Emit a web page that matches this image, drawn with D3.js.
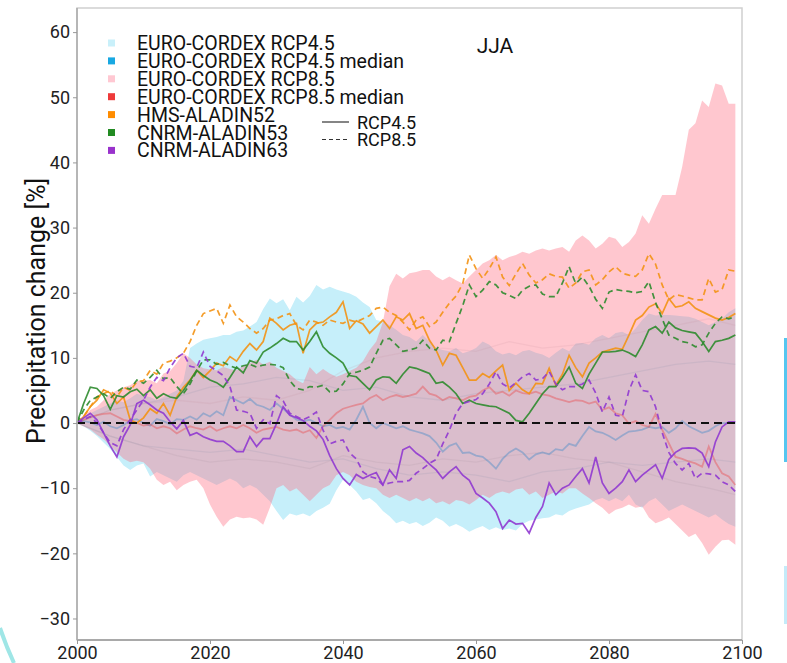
<!DOCTYPE html>
<html>
<head>
<meta charset="utf-8">
<script src="https://cdn.jsdelivr.net/npm/d3@7"></script>
<style>
  html, body { margin: 0; padding: 0; background: #fff; }
  svg { display: block; font-family: Roboto, "Noto Sans", sans-serif; }
</style>
</head>
<body>
<svg id="chart" width="787" height="663"></svg>
<script>
// JJA precipitation change relative to 2000, annual values 2000-2099
const years = d3.range(2000, 2100);

// EURO-CORDEX ensemble envelopes
const rcp45Upper = [
  0,0.8,1.5,2.0,2.5,3.0,3.5,3.2,3.8,4.5,
  4.2,4.0,3.5,4.0,4.5,5.0,6.5,11.5,12.2,12.8,
  13.0,13.2,13.5,13.5,14.0,14.2,14.8,15.5,17.5,19.1,
  18.4,19.0,17.3,19.4,18.5,19.5,21.2,20.5,20.9,20.5,
  20.2,19.9,19.4,18.5,17.8,15.8,15.6,15.0,14.3,13.5,
  13.2,12.5,13.5,12.5,11.5,11.2,11.0,11.5,10.7,11.0,
  11.5,12.5,12.0,11.0,10.5,10.8,10.4,11.0,11.2,10.8,
  10.5,10.0,10.8,11.5,11.0,12.2,12.3,12.0,13.0,13.5,
  13.0,13.8,14.0,13.5,14.5,15.8,16.8,16.5,16.6,16.6,
  16.5,16.4,16.3,16.0,15.5,15.0,15.5,16.0,17.0,17.6];
const rcp45Lower = [
  0,-0.5,-1.2,-2.0,-3.0,-4.0,-5.2,-6.5,-7.2,-6.5,
  -6.2,-8.2,-7.5,-8.0,-8.5,-9.0,-8.0,-7.5,-8.0,-8.5,
  -9.0,-9.5,-9.0,-8.5,-9.0,-10.0,-9.5,-10.0,-11.0,-12.0,
  -13.5,-14.9,-13.9,-14.2,-13.9,-14.3,-13.5,-13.0,-12.4,-10.3,
  -8.7,-9.5,-10.5,-11.8,-11.5,-12.3,-13.5,-14.3,-15.4,-15.0,
  -15.5,-15.2,-15.8,-15.3,-14.5,-15.0,-15.9,-15.5,-16.0,-16.7,
  -16.2,-15.8,-16.4,-16.0,-16.4,-16.2,-16.5,-15.5,-15.0,-14.8,
  -14.6,-14.5,-14.0,-14.2,-13.5,-13.1,-12.8,-12.5,-11.8,-11.5,
  -12.0,-11.5,-12.0,-11.0,-12.5,-13.0,-12.0,-11.5,-12.5,-13.5,
  -13.0,-12.5,-13.0,-13.5,-14.0,-14.5,-14.0,-14.8,-15.5,-15.9];
const rcp85Upper = [
  0,1.0,2.0,2.5,3.5,4.5,5.0,5.5,5.8,6.5,
  6.5,6.6,6.1,7.6,8.0,9.2,10.7,10.0,9.0,8.4,
  8.2,8.1,8.6,8.3,8.1,8.8,9.2,9.7,9.0,9.4,
  8.5,8.0,7.5,6.6,6.1,8.6,7.5,8.3,7.6,7.1,
  7.5,8.0,8.5,9.5,11.2,12.5,15.5,21.0,22.9,22.2,
  23.0,23.2,23.5,23.5,22.5,21.9,22.5,21.9,21.4,22.5,
  23.5,24.5,25.0,25.8,25.0,25.5,25.8,26.3,26.0,26.5,
  26.8,26.5,26.8,27.0,26.3,28.0,28.8,28.0,26.8,27.5,
  28.6,28.3,27.0,27.8,29.1,31.9,30.6,32.9,35.0,35.0,
  35.0,39.3,45.0,46.0,49.5,48.5,52.1,51.8,49.0,49.0];
const rcp85Lower = [
  0,-0.5,-1.0,-1.8,-2.5,-3.5,-4.5,-5.5,-6.0,-5.8,
  -6.0,-7.0,-8.7,-9.5,-9.0,-10.3,-9.5,-9.0,-8.7,-10.0,
  -12.5,-14.4,-15.9,-14.8,-14.4,-14.6,-14.5,-14.8,-15.6,-13.0,
  -10.0,-9.5,-10.5,-10.0,-11.0,-12.0,-11.0,-10.0,-9.5,-8.0,
  -7.5,-8.0,-9.0,-9.5,-9.8,-10.0,-11.0,-11.5,-11.0,-11.5,
  -12.0,-11.5,-12.0,-11.5,-12.3,-12.0,-12.5,-11.8,-12.0,-12.5,
  -11.8,-11.0,-11.5,-10.8,-10.5,-10.8,-10.2,-10.0,-11.0,-10.5,
  -11.5,-11.0,-10.5,-10.8,-10.0,-10.0,-10.8,-11.5,-12.3,-13.0,
  -14.0,-13.3,-13.0,-12.5,-13.0,-12.8,-14.5,-15.4,-15.0,-14.5,
  -15.5,-16.5,-17.5,-17.0,-18.4,-20.2,-19.0,-18.0,-17.9,-18.7];

// EURO-CORDEX ensemble medians
const rcp45Median = [
  0,0.3,0.1,-0.3,0.2,-0.5,-0.8,-0.3,0.4,0.6,
  0.0,-0.4,0.6,0.3,-0.2,0.6,0.5,1.0,0.5,1.5,
  1.0,1.8,1.2,4.0,3.5,3.0,3.7,2.8,2.5,2.0,
  3.0,2.2,1.3,0.5,0.3,0.5,0.0,-0.5,-0.3,-0.8,
  -0.6,-1.0,0.5,2.5,0.0,-0.8,0.0,-0.4,-0.8,-0.5,
  -1.0,-1.3,-1.6,-2.0,-3.0,-4.4,-3.5,-3.1,-4.6,-4.5,
  -5.0,-5.2,-6.0,-7.0,-5.5,-4.5,-3.9,-4.5,-5.6,-4.8,
  -4.5,-4.8,-4.0,-4.2,-3.2,-3.5,-2.0,-0.6,-1.3,-1.5,
  -2.0,-2.6,-1.9,-1.3,-1.2,-1.0,-0.6,-0.8,-0.6,-1.5,
  -0.8,0.3,-0.5,-1.0,-1.5,-1.2,-0.5,0.0,0.0,0.0];
const rcp85Median = [
  0,0.5,0.9,1.2,1.4,1.5,1.0,0.5,0.3,0.0,
  -0.4,-0.2,-0.8,-0.5,-0.8,-1.6,-1.0,-0.5,-0.8,-1.0,
  -0.5,-1.2,-0.8,-0.5,-0.8,-0.3,-0.8,-1.5,-1.0,-0.8,
  -0.6,-1.0,-1.2,-1.0,-1.5,-1.1,-2.3,-0.5,0.5,1.5,
  2.2,2.5,2.8,3.0,3.8,4.3,3.5,4.0,4.3,4.0,
  4.2,4.5,5.6,4.5,4.2,3.5,4.0,3.8,3.5,4.0,
  4.2,5.0,5.5,4.5,4.8,4.2,5.0,4.6,4.5,4.8,
  4.4,4.2,3.8,3.5,3.2,3.5,3.4,3.0,3.3,2.0,
  2.4,1.5,1.2,-0.1,0.3,-0.3,-0.6,1.4,-1.0,-3.1,
  -5.2,-5.5,-5.9,-6.2,-6.7,-3.6,-6.0,-7.7,-8.2,-9.5];

// Faint inner ensemble curves (sampled every 5 years)
const innerYears = [2000,2005,2010,2015,2020,2025,2030,2035,2040,2045,2050,2055,2060,2065,2070,2075,2080,2085,2090,2095,2099];
const inner45Hi = [0,2,3,4,5.5,6,7,6.5,5,5.5,4,3.5,4.5,5,5.5,6,7,8,9,9.5,9];
const inner45Lo = [0,-2,-3.5,-4,-4.5,-4,-5,-6,-5.5,-7,-8,-7.5,-8,-9,-7.5,-7,-6,-6.5,-6,-5.5,-6];
const inner85Hi = [0,2,3,3.5,3,4,3.5,5,8,10,11,11.5,11,12.5,11.5,12,13,14,15,16,15];
const inner85Lo = [0,-2,-3.5,-5,-6,-5.5,-6,-7,-5,-6,-6.5,-5.5,-6,-5,-4.5,-5.5,-6,-7.5,-9,-10,-11];

// Regional model runs
const hms52Rcp45 = [
  0,1.0,2.5,3.5,5.1,4.6,3.0,4.0,0.5,0.0,
  0.8,2.2,1.5,3.0,1.2,4.0,5.5,6.6,8.1,7.0,
  8.0,9.2,8.8,10.2,9.5,11.0,12.2,11.2,12.5,16.1,
  15.3,14.3,15.0,15.3,10.7,14.3,15.3,15.5,16.3,17.0,
  18.6,14.5,15.7,15.2,13.8,14.8,15.8,14.5,16.3,15.8,
  16.8,14.5,15.0,12.7,11.2,8.9,10.7,10.4,8.5,6.6,
  6.6,7.6,7.0,8.0,8.9,5.0,6.1,5.1,4.5,6.1,
  6.0,8.4,5.8,7.5,10.4,8.5,7.1,9.2,10.0,10.9,
  11.2,11.5,11.3,13.5,15.8,16.5,17.8,18.3,16.8,19.1,
  17.8,18.0,18.6,17.6,17.1,16.6,16.1,15.8,16.2,16.8];
const hms52Rcp85 = [
  0,1.0,2.5,4.0,4.5,5.0,4.0,5.5,5.0,6.3,
  6.5,8.1,7.5,9.2,9.5,10.0,10.7,12.5,15.0,16.8,
  17.2,17.6,15.3,18.1,16.3,15.5,14.5,13.8,14.5,15.8,
  16.0,16.5,16.8,15.0,14.3,15.8,15.5,15.0,15.8,15.5,
  15.3,15.8,15.5,16.0,16.5,17.6,17.8,17.0,16.5,15.5,
  14.3,15.8,16.3,14.8,15.5,17.0,18.4,19.5,21.4,25.8,
  23.7,22.2,23.7,25.5,22.4,21.1,22.9,24.5,22.7,21.5,
  22.0,22.9,22.5,22.4,20.7,21.5,23.2,23.5,21.2,22.0,
  23.2,24.0,23.0,22.7,22.5,23.5,26.0,24.4,21.2,18.9,
  19.7,19.5,19.2,18.9,18.9,22.2,20.1,20.5,23.5,23.3];
const cnrm53Rcp45 = [
  0,3.0,5.5,5.3,4.2,2.1,4.2,4.0,4.8,5.2,
  4.2,5.1,3.8,4.5,4.0,3.8,5.0,6.5,8.1,7.3,
  6.6,6.2,5.5,7.0,8.6,7.7,9.6,9.2,10.9,11.5,
  12.2,13.0,12.5,12.5,11.2,12.5,14.0,11.7,10.7,10.0,
  9.2,7.3,7.1,6.1,5.1,6.6,7.1,7.0,6.1,7.5,
  8.6,8.4,8.0,7.6,6.1,6.3,5.5,4.5,3.0,3.5,
  3.0,2.8,2.6,2.5,2.0,1.5,0.4,0.2,1.5,3.0,
  4.5,5.6,5.6,7.0,8.6,6.1,5.3,7.5,9.2,10.9,
  10.9,11.0,11.2,10.8,10.2,12.0,14.3,14.8,13.8,15.5,
  14.6,14.2,14.0,13.8,12.5,11.0,12.5,12.7,13.0,13.5];
const cnrm53Rcp85 = [
  0,2.0,3.5,4.0,4.5,3.8,4.8,5.5,5.2,6.6,
  6.1,7.0,8.1,6.8,7.0,5.6,4.5,6.0,8.0,9.7,
  9.7,9.0,9.3,8.8,8.4,8.8,9.0,8.6,8.9,9.0,
  8.9,8.5,6.5,5.3,5.1,5.6,5.5,5.8,4.8,4.9,
  6.0,7.6,7.8,8.1,8.6,10.7,12.7,13.0,12.0,11.0,
  11.2,11.5,12.7,11.5,11.2,12.7,12.5,15.3,18.0,21.2,
  19.4,20.4,21.7,21.2,20.0,19.6,19.1,20.4,21.0,21.2,
  19.8,19.4,19.4,21.5,24.0,21.4,22.4,21.0,19.0,17.6,
  20.1,20.5,20.3,20.2,20.0,20.2,21.7,18.5,16.0,13.5,
  13.0,12.5,12.3,11.7,12.0,13.8,15.3,16.3,16.0,16.3];
const cnrm63Rcp45 = [
  0,0.8,1.5,0.5,-1.5,-3.5,-5.2,-2.1,-0.3,3.0,
  3.5,2.8,2.0,1.5,0.2,-0.9,0.4,-1.9,-1.5,-2.1,
  -2.5,-2.8,-2.8,-3.5,-4.4,-4.4,-2.1,-3.6,-2.4,-2.4,
  -0.1,2.5,1.2,0.8,0.4,-0.5,-1.2,-2.5,-5.0,-7.0,
  -8.5,-9.5,-7.9,-8.5,-8.0,-7.6,-9.5,-7.2,-8.5,-4.1,
  -3.6,-4.6,-5.3,-6.3,-7.2,-8.5,-7.5,-6.7,-8.0,-8.8,
  -10.8,-11.5,-12.3,-13.6,-16.2,-14.9,-15.5,-15.4,-16.9,-14.5,
  -12.8,-9.2,-11.0,-10.0,-9.5,-8.2,-7.0,-9.2,-5.2,-9.2,
  -10.8,-10.0,-9.0,-7.2,-9.0,-8.0,-7.2,-6.4,-8.5,-5.6,
  -4.5,-3.9,-3.8,-3.9,-4.6,-6.7,-2.9,-0.6,0.2,0.2];
const cnrm63Rcp85 = [
  0,0.5,1.0,0.0,-1.5,-3.0,-3.5,-1.0,0.5,2.0,
  3.5,5.5,7.0,6.5,8.5,10.0,10.7,8.7,8.5,10.9,
  8.7,8.0,7.3,5.6,2.0,1.8,1.5,-0.8,0.5,-0.1,
  4.2,3.4,1.5,1.0,0.5,1.0,1.7,-1.1,-3.2,-2.8,
  -2.6,-4.6,-5.5,-7.5,-8.2,-8.5,-9.5,-9.2,-9.0,-9.0,
  -8.8,-7.7,-7.0,-6.2,-5.6,-3.2,-1.1,1.5,3.0,3.3,
  3.6,4.5,6.0,7.9,6.0,5.4,6.2,7.1,7.6,6.6,
  6.8,7.9,6.0,5.1,5.6,5.6,6.0,6.6,4.6,1.7,
  4.0,1.2,1.0,5.0,7.4,5.0,4.8,2.5,-1.5,-4.5,
  -6.2,-7.2,-6.2,-8.5,-7.7,-7.8,-8.0,-9.0,-9.5,-10.5];

// Axis ticks
const yTicks = [-30,-20,-10,0,10,20,30,40,50,60];
const xTicks = [2000,2020,2040,2060,2080,2100];

// Legend entries
const legendLabels = ["EURO-CORDEX RCP4.5","EURO-CORDEX RCP4.5 median","EURO-CORDEX RCP8.5",
  "EURO-CORDEX RCP8.5 median","HMS-ALADIN52","CNRM-ALADIN53","CNRM-ALADIN63"];
const legendColors = ["#c9f0fa","#18a8e2","#ffc8d2","#ee3a3a","#ff8c00","#228b22","#9932cc"];
const styleLabels = ["RCP4.5","RCP8.5"];

const svg = d3.select("#chart");
const x = d3.scaleLinear().domain([2000, 2100]).range([77, 742]);
const y = d3.scaleLinear().domain([-33.3, 63.7]).range([640, 8]);

const toPts = (vals, yrs = years) => vals.map((v, i) => [yrs[i], v]);
const line = d3.line().x(d => x(d[0])).y(d => y(d[1]));
const band = d3.area().x((d, i) => x(years[i])).y0(d => y(d[0])).y1(d => y(d[1]));

const plot = svg.append("g");

// envelopes: RCP4.5 solid, RCP8.5 translucent on top
plot.append("path")
  .datum(rcp45Lower.map((v, i) => [v, rcp45Upper[i]]))
  .attr("d", band).attr("fill", "#c6effa");
plot.append("path")
  .datum(rcp85Lower.map((v, i) => [v, rcp85Upper[i]]))
  .attr("d", band).attr("fill", "rgb(255,100,122)").attr("fill-opacity", 0.36);

// faint inner curves
[[inner45Hi, "#7f8fa8"], [inner45Lo, "#7f8fa8"], [inner85Hi, "#c08a98"], [inner85Lo, "#a08a98"]]
  .forEach(([vals, c]) => {
    plot.append("path").datum(toPts(vals, innerYears)).attr("d", line)
      .attr("fill", "none").attr("stroke", c).attr("stroke-width", 1.3).attr("stroke-opacity", 0.15);
  });

// medians
plot.append("path").datum(toPts(rcp45Median)).attr("d", line)
  .attr("fill", "none").attr("stroke", "#3a86c8").attr("stroke-width", 1.8).attr("stroke-opacity", 0.4);
plot.append("path").datum(toPts(rcp85Median)).attr("d", line)
  .attr("fill", "none").attr("stroke", "#ee3030").attr("stroke-width", 1.8).attr("stroke-opacity", 0.35);

// model runs
const runs = [
  [hms52Rcp45, "#f39214", false], [hms52Rcp85, "#f39214", true],
  [cnrm53Rcp45, "#2e8b2e", false], [cnrm53Rcp85, "#2e8b2e", true],
  [cnrm63Rcp45, "#9038d0", false], [cnrm63Rcp85, "#9038d0", true]
];
runs.forEach(([vals, c, dashed]) => {
  plot.append("path").datum(toPts(vals)).attr("d", line)
    .attr("fill", "none").attr("stroke", c).attr("stroke-width", 1.7)
    .attr("stroke-opacity", 0.9)
    .attr("stroke-dasharray", dashed ? "6,4" : null);
});

// zero reference
plot.append("line").attr("x1", x(2000)).attr("x2", x(2099))
  .attr("y1", y(0)).attr("y2", y(0))
  .attr("stroke", "#111").attr("stroke-width", 2).attr("stroke-dasharray", "8,5");

// frame
svg.append("rect").attr("x", 77).attr("y", 8).attr("width", 665).attr("height", 632)
  .attr("fill", "none").attr("stroke", "#cfcfcf").attr("stroke-width", 1.5);
svg.append("line").attr("x1", 77).attr("x2", 742).attr("y1", 640).attr("y2", 640)
  .attr("stroke", "#999").attr("stroke-width", 1.5);
svg.append("line").attr("x1", 77).attr("x2", 77).attr("y1", 8).attr("y2", 640)
  .attr("stroke", "#aaa").attr("stroke-width", 1.5);

// axes
const yAxis = svg.append("g").attr("transform", "translate(77,0)")
  .call(d3.axisLeft(y).tickValues(yTicks).tickSize(4).tickPadding(3));
const xAxis = svg.append("g").attr("transform", "translate(0,640)")
  .call(d3.axisBottom(x).tickValues(xTicks).tickFormat(d3.format("d")).tickSize(4).tickPadding(2));
[yAxis, xAxis].forEach(a => {
  a.select(".domain").remove();
  a.selectAll(".tick line").attr("stroke", "#999");
  a.selectAll(".tick text").attr("fill", "#222").style("font-size", "18px")
    .style("font-family", "Roboto, sans-serif");
});

// axis title
svg.append("text")
  .attr("transform", "translate(45,311) rotate(-90)")
  .attr("text-anchor", "middle")
  .style("font-size", "25px").attr("fill", "#111")
  .text("Precipitation change [%]");

// panel title
svg.append("text").attr("x", 495).attr("y", 53).attr("text-anchor", "middle")
  .style("font-size", "21px").attr("fill", "#111").text("JJA");

// legend
const leg = svg.append("g");
legendLabels.forEach((lab, i) => {
  const cy = 43 + i * 17.9;
  leg.append("rect").attr("x", 108).attr("y", cy - 3.5).attr("width", 7).attr("height", 7)
    .attr("fill", legendColors[i]);
  leg.append("text").attr("x", 137).attr("y", cy + 7).style("font-size", "19.5px")
    .attr("fill", "#111").text(lab);
});
styleLabels.forEach((lab, i) => {
  const cy = 122 + i * 17.5;
  leg.append("line").attr("x1", 322).attr("x2", 349).attr("y1", cy).attr("y2", cy)
    .attr("stroke", "#333").attr("stroke-width", 1.2)
    .attr("stroke-dasharray", i === 1 ? "4,3" : null);
  leg.append("text").attr("x", 357).attr("y", cy + 6.5).style("font-size", "18px")
    .attr("fill", "#111").text(lab);
});

// neighbouring-panel edges at the page border
svg.append("rect").attr("x", 784).attr("y", 338).attr("width", 3).attr("height", 124).attr("fill", "#55c6f0");
svg.append("rect").attr("x", 784).attr("y", 566).attr("width", 3).attr("height", 58).attr("fill", "#c4ebf9");
svg.append("path").attr("d", "M0,628 Q6,646 14,663").attr("fill", "none")
  .attr("stroke", "#9fe6e6").attr("stroke-width", 4);
</script>
</body>
</html>
